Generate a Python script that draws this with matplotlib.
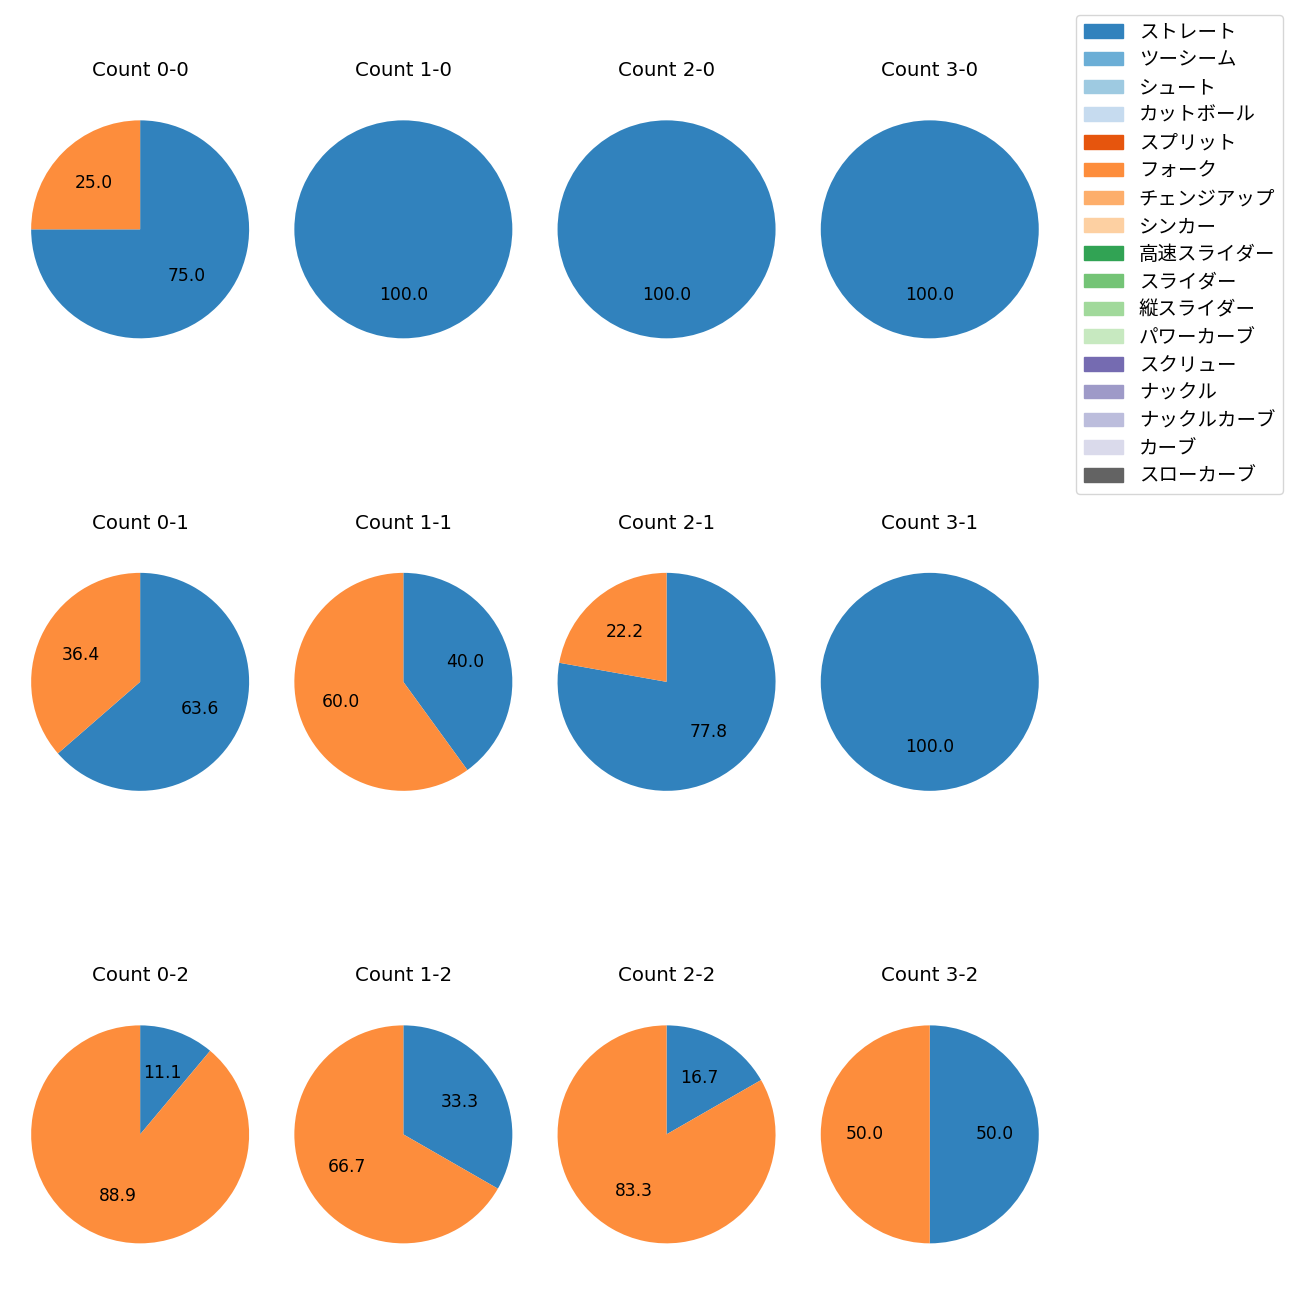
import matplotlib.pyplot as plt

plt.rcParams['font.family'] = ['DejaVu Sans', 'Noto Sans CJK JP']

pitch_types = ["ストレート", "ツーシーム", "シュート", "カットボール", "スプリット",
               "フォーク", "チェンジアップ", "シンカー", "高速スライダー", "スライダー",
               "縦スライダー", "パワーカーブ", "スクリュー", "ナックル", "ナックルカーブ",
               "カーブ", "スローカーブ"]

counts = ["0-0", "1-0", "2-0", "3-0",
          "0-1", "1-1", "2-1", "3-1",
          "0-2", "1-2", "2-2", "3-2"]

# share (%) per count: straight, fork
straight = [75.0, 100.0, 100.0, 100.0,
            63.6, 40.0, 77.8, 100.0,
            11.1, 33.3, 16.7, 50.0]
fork = [25.0, 0.0, 0.0, 0.0,
        36.4, 60.0, 22.2, 0.0,
        88.9, 66.7, 83.3, 50.0]

colors = plt.cm.tab20c.colors[:17]

fig, axes = plt.subplots(3, 4, figsize=(13, 13))
fig.subplots_adjust(left=0.003, right=0.82, top=0.939, bottom=0.012,
                    wspace=-0.034, hspace=0.508)

for ax, cnt, s, f in zip(axes.flat, counts, straight, fork):
    vals = [0.0] * len(pitch_types)
    vals[0] = s
    vals[5] = f
    ax.pie(vals, colors=colors, startangle=90, counterclock=False,
           autopct=lambda p: f"{p:.1f}" if p > 0 else "",
           textprops={"fontsize": 12.3})
    ax.set_title(f"Count {cnt}", fontsize=14.2, pad=12)

handles = [plt.Rectangle((0, 0), 1, 1, color=c) for c in colors]
fig.legend(handles, pitch_types, loc="upper right", fontsize=14,
           labelspacing=0.45, borderaxespad=0,
           bbox_to_anchor=(0.9869, 0.9885))

fig.savefig("out.png", dpi=100)
